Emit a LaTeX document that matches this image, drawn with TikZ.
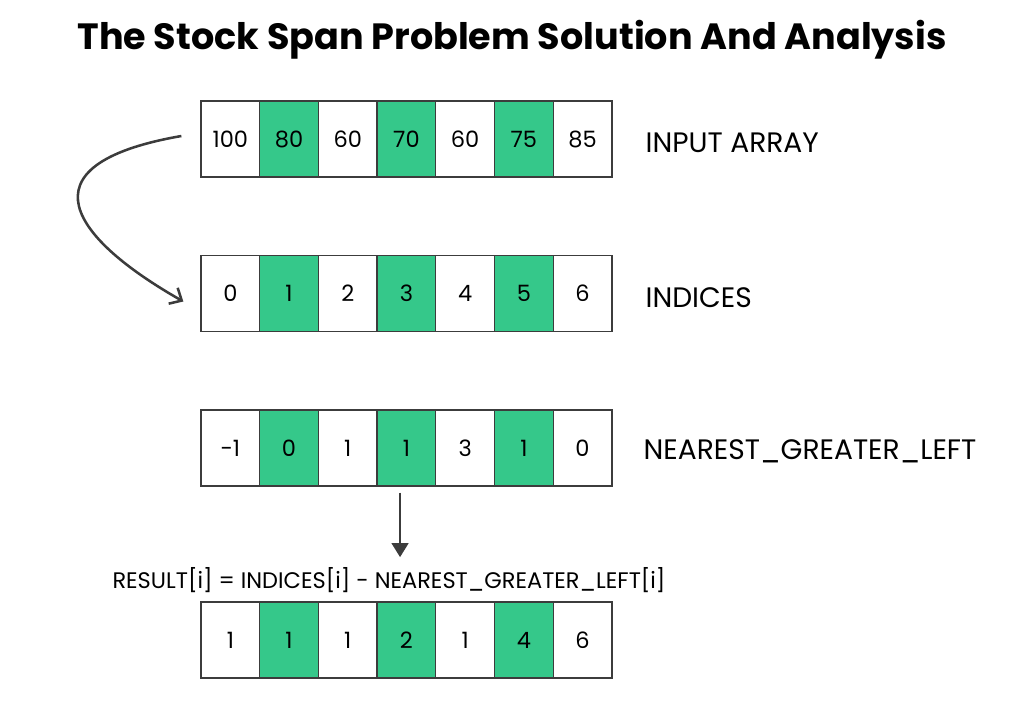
\documentclass[tikz,border=0pt]{standalone}
\usepackage{fontspec}
\setmainfont{Poppins}
\usetikzlibrary{positioning}
\usetikzlibrary{arrows.meta}
\definecolor{spangreen}{HTML}{35C88A}
\definecolor{linegray}{HTML}{3C3C3C}

\begin{document}
\begin{tikzpicture} [ x=0.025cm, y=-0.025cm
					, cell/.style={rectangle, draw=linegray, line width=0.9pt, minimum width=1.4675cm, minimum height=1.9cm, inner sep=0pt, font=\fontsize{16}{19}\selectfont}
					, hit/.style={cell, fill=spangreen}
					, rowlabel/.style={anchor=west, inner sep=0pt, font=\fontsize{20}{24}\selectfont}
					, bogen/.style={draw=linegray, line width=1.8pt, arrows={-Straight Barb[length=7pt, width=13pt]}}
					, pfeilspitze/.style={draw=linegray, line width=1.4pt, arrows={-Triangle[length=10pt, width=12pt]}}
					]
	\useasboundingbox (0,0) rectangle (1024,713);

	\node (titel) at (512,40) {\fontsize{26}{31}\selectfont\bfseries The Stock Span Problem Solution And Analysis};

	% the four arrays, every odd cell green
	\foreach \r/\y/\vals in {in/139/{100,80,60,70,60,75,85}, idx/293.5/{0,1,2,3,4,5,6}, ngl/448/{-1,0,1,1,3,1,0}, res/640/{1,1,1,2,1,4,6}}{
		\foreach \v [count=\i from 0] in \vals {
			\ifodd\i \def\st{hit}\else \def\st{cell}\fi
			\node (\r\i) [\st] at (230.35+58.7*\i,\y) {\v};
		}
	}

	\node (lblIn) 		[rowlabel, right=0.82cm of in6.east, yshift=-0.1cm] {INPUT ARRAY};
	\node (lblIdx) 	[rowlabel, right=0.82cm of idx6.east, yshift=-0.1cm] {INDICES};
	\node (lblNgl) 	[rowlabel, right=0.77cm of ngl6.east, yshift=-0.08cm] {NEAREST\_GREATER\_LEFT};
	\node (formel) 	at (389,580) [font=\fontsize{16}{19}\selectfont, inner sep=0pt] {RESULT[i] = INDICES[i] - NEAREST\_GREATER\_LEFT[i]};

	\coordinate (bogenStart) at ([xshift=-0.475cm, yshift=0.075cm]in0.west);
	\coordinate (bogenEnde) at ([xshift=-0.425cm, yshift=-0.2cm]idx0.west);
	\coordinate (pfeilStart) at ([xshift=-0.16cm, yshift=-0.15cm]ngl3.south);
	\coordinate (pfeilEnde) at ([yshift=0.25cm]pfeilStart |- formel.north);

	\draw [bogen] (bogenStart) .. controls (15,165) and (75,240) .. (bogenEnde);
	\draw [pfeilspitze] (pfeilStart) -- (pfeilEnde);

\end{tikzpicture}
\end{document}
